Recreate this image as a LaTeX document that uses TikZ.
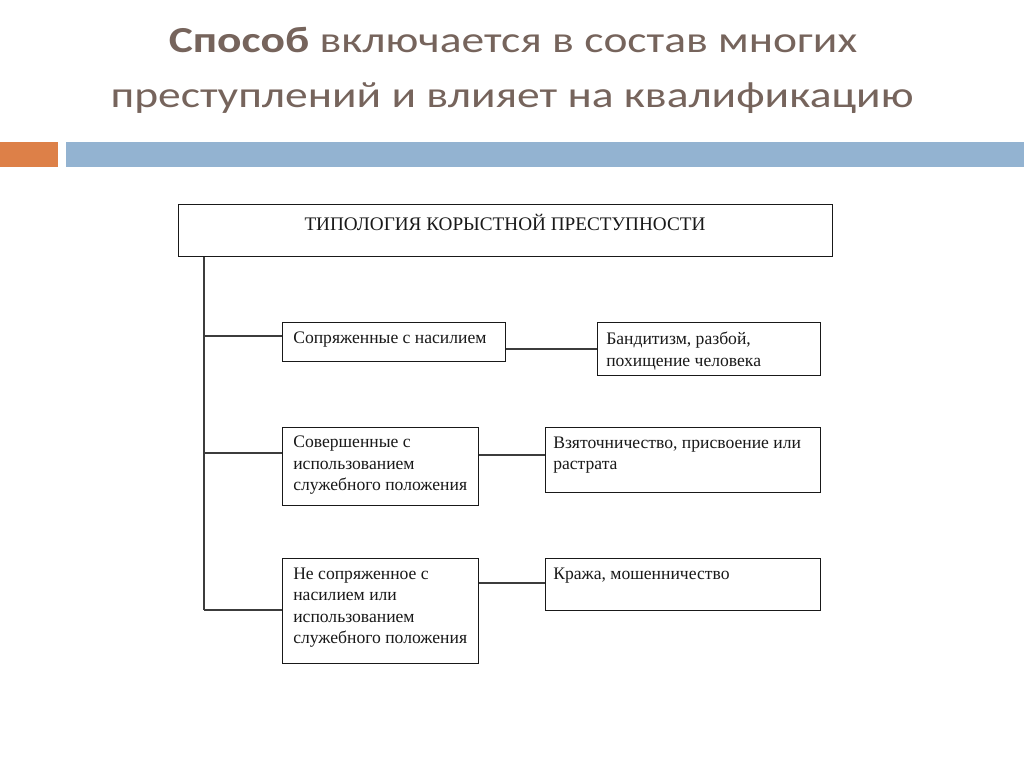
\documentclass[tikz,border=0pt]{standalone}
\usepackage{fontspec}
\setmainfont{Liberation Serif}
\newfontfamily\titlefont{Carlito}
\definecolor{titlecol}{RGB}{118,100,92}
\definecolor{barorange}{RGB}{221,128,72}
\definecolor{barblue}{RGB}{147,179,209}
\definecolor{inkcol}{RGB}{25,25,25}
\tikzset{
  titletext/.style={text=titlecol, font=\titlefont\fontsize{27.5}{30}\selectfont, inner sep=0pt, xscale=1.24},
  boxshape/.style={draw=inkcol, line width=1.1pt, rectangle, inner sep=0pt, anchor=north west},
  boxtext/.style={text=inkcol, font=\fontsize{13.2}{15.9}\selectfont, align=left, inner sep=0pt, anchor=north west},
  link/.style={draw=inkcol!85, line width=0.9pt},
}
\begin{document}
\begin{tikzpicture}[x=0.75pt,y=-0.75pt]
\useasboundingbox[fill=white] (0,0) rectangle (1024,767);
% title
\node[titletext, anchor=base] (t1) at (513,53) {\textbf{Способ} включается в состав многих};
\node[titletext, anchor=base] (t2) at (512,108) {преступлений и влияет на квалификацию};
% bars
\fill[barorange] (0,142) rectangle (58,167);
\fill[barblue] (66,142) rectangle (1024,167);
% boxes
\node[boxshape, minimum width=654*0.75pt, minimum height=52*0.75pt] (top) at (178,204) {};
\node[boxtext, anchor=north, font=\fontsize{14.4}{16}\selectfont] (toptxt) at (505,214) {ТИПОЛОГИЯ КОРЫСТНОЙ ПРЕСТУПНОСТИ};

\node[boxshape, minimum width=223*0.75pt, minimum height=39*0.75pt] (L1) at (282,322) {};
\node[boxtext] (L1t) at (293,332) {Сопряженные с насилием};
\node[boxshape, minimum width=223*0.75pt, minimum height=53*0.75pt] (R1) at (597,322) {};
\node[boxtext] (R1t) at (606,332) {Бандитизм, разбой,\\похищение человека};

\node[boxshape, minimum width=196*0.75pt, minimum height=78*0.75pt] (L2) at (282,427) {};
\node[boxtext] (L2t) at (293,436) {Совершенные с\\использованием\\служебного положения};
\node[boxshape, minimum width=275*0.75pt, minimum height=65*0.75pt] (R2) at (545,427) {};
\node[boxtext] (R2t) at (553,437) {Взяточничество, присвоение или\\растрата};

\node[boxshape, minimum width=196*0.75pt, minimum height=105*0.75pt] (L3) at (282,558) {};
\node[boxtext] (L3t) at (293,568) {Не сопряженное с\\насилием или\\использованием\\служебного положения};
\node[boxshape, minimum width=275*0.75pt, minimum height=52*0.75pt] (R3) at (545,558) {};
\node[boxtext] (R3t) at (553,568) {Кража, мошенничество};

% connectors
\coordinate (trunkend) at (204,610);
\draw[link] (trunkend |- top.south) -- (trunkend);
\draw[link] (trunkend |- 0,336) -- (L1.west |- 0,336);
\draw[link] (trunkend |- 0,453) -- (L2.west |- 0,453);
\draw[link] (trunkend) -- (L3.west |- trunkend);
\draw[link] (L1.east |- 0,349) -- (R1.west |- 0,349);
\draw[link] (L2.east |- 0,455) -- (R2.west |- 0,455);
\draw[link] (L3.east |- 0,583) -- (R3.west |- 0,583);
\end{tikzpicture}
\end{document}
